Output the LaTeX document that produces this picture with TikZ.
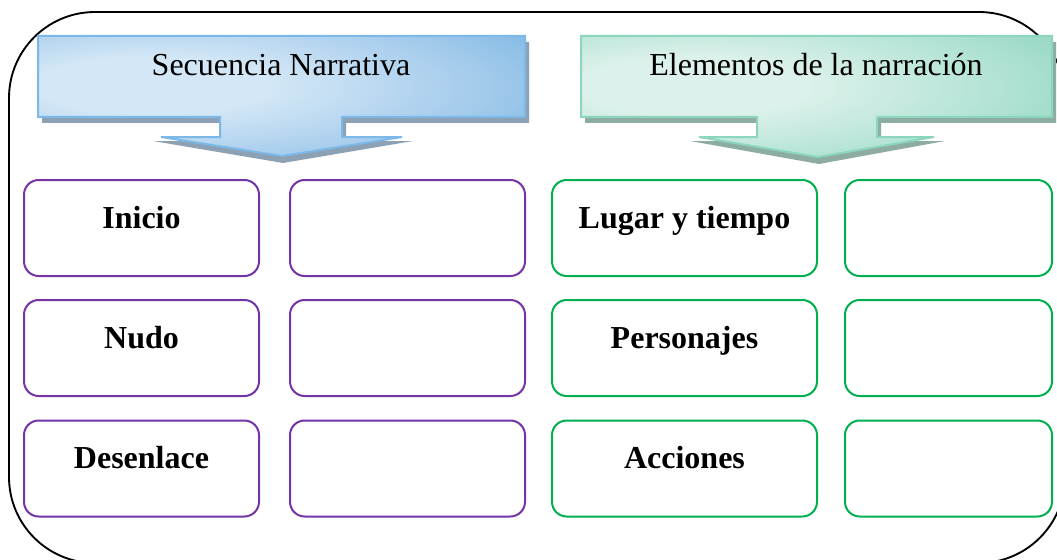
\documentclass[tikz,border=0pt]{standalone}
\usepackage{fontspec}
\setmainfont{Liberation Serif}
\definecolor{blueA}{HTML}{D3E7F6}
\definecolor{blueB}{HTML}{A6CCEC}
\definecolor{blueC}{HTML}{6FB1E1}
\definecolor{blueline}{HTML}{7CB9E8}
\definecolor{blueshadow}{HTML}{8DA1B4}
\definecolor{greenA}{HTML}{DCF1EB}
\definecolor{greenB}{HTML}{B2E3D4}
\definecolor{greenC}{HTML}{84D0B9}
\definecolor{greenline}{HTML}{8CD6C0}
\definecolor{greenshadow}{HTML}{8EADA2}
\definecolor{boxpurple}{HTML}{7434A8}
\definecolor{boxgreen}{HTML}{00B050}
\pgfdeclareradialshading{blueglow}{\pgfpoint{-15bp}{5bp}}{color(0bp)=(blueA); color(12bp)=(blueA); color(30bp)=(blueB); color(48bp)=(blueC); color(100bp)=(blueC)}
\pgfdeclareradialshading{greenglow}{\pgfpoint{-15bp}{5bp}}{color(0bp)=(greenA); color(12bp)=(greenA); color(30bp)=(greenB); color(48bp)=(greenC); color(100bp)=(greenC)}
\def\pxu{0.75pt}
\tikzset{
  frame/.style={draw=black, line width=1.4pt, rounded corners=64.5pt},
  titletext/.style={font=\fontsize{24pt}{28pt}\selectfont, inner sep=0pt, anchor=base},
  cellbox/.style={rounded corners=11pt, line width=1.5pt, fill=white, inner sep=0pt,
    font=\fontsize{24pt}{28pt}\selectfont\bfseries, text height=9pt, text depth=9pt,
    minimum height=96*\pxu},
  pbox/.style={cellbox, draw=boxpurple},
  gbox/.style={cellbox, draw=boxgreen},
  wA/.style={minimum width=235*\pxu},
  wB/.style={minimum width=235*\pxu},
  wC/.style={minimum width=265*\pxu},
  wD/.style={minimum width=207*\pxu},
}
\begin{document}
\begin{tikzpicture}[x=0.75pt,y=-0.75pt]
\useasboundingbox (0,0) rectangle (1057,560);
\clip (0,0) rectangle (1057,560);
\fill[white] (0,0) rectangle (1057,560);
% outer frame
\draw[frame] (9,12) rectangle (1065,563);
% shadows
\fill[blueshadow] (42,42) -- (529,42) -- (529,123) -- (346,123) -- (346,141) -- (413,141) -- (283,163) -- (153,141) -- (224,141) -- (224,123) -- (42,123) -- cycle;
\fill[greenshadow] (585,42) -- (1056,42) -- (1056,123) -- (881,123) -- (881,141) -- (945,141) -- (819,164) -- (690,141) -- (761,141) -- (761,123) -- (585,123) -- cycle;
% arrows
\shadedraw[shading=blueglow, draw=blueline, line width=1.5pt, line join=miter]
  (38,36) -- (525,36) -- (525,117) -- (342,117) -- (342,137) -- (402,137) -- (282,156) -- (161,137) -- (220,137) -- (220,117) -- (38,117) -- cycle;
\shadedraw[shading=greenglow, draw=greenline, line width=1.5pt, line join=miter]
  (581,36) -- (1052,36) -- (1052,117) -- (877,117) -- (877,137) -- (934,137) -- (818,157) -- (699,137) -- (757,137) -- (757,117) -- (581,117) -- cycle;
% titles
\node[titletext] (tA) at (281,75) {Secuencia Narrativa};
\node[titletext] (tB) at (816,75) {Elementos de la narración};
% purple boxes
\node[pbox, wA] (p11) at (141.5,228) {Inicio};
\node[pbox, wB] (p12) at (407.5,228) {};
\node[pbox, wA] (p21) at (141.5,348) {Nudo};
\node[pbox, wB] (p22) at (407.5,348) {};
\node[pbox, wA] (p31) at (141.5,468.5) {Desenlace};
\node[pbox, wB] (p32) at (407.5,468.5) {};
% green boxes
\node[gbox, wC] (g11) at (684.5,228) {Lugar y tiempo};
\node[gbox, wD] (g12) at (948.5,228) {};
\node[gbox, wC] (g21) at (684.5,348) {Personajes};
\node[gbox, wD] (g22) at (948.5,348) {};
\node[gbox, wC] (g31) at (684.5,468.5) {Acciones};
\node[gbox, wD] (g32) at (948.5,468.5) {};
\end{tikzpicture}
\end{document}
